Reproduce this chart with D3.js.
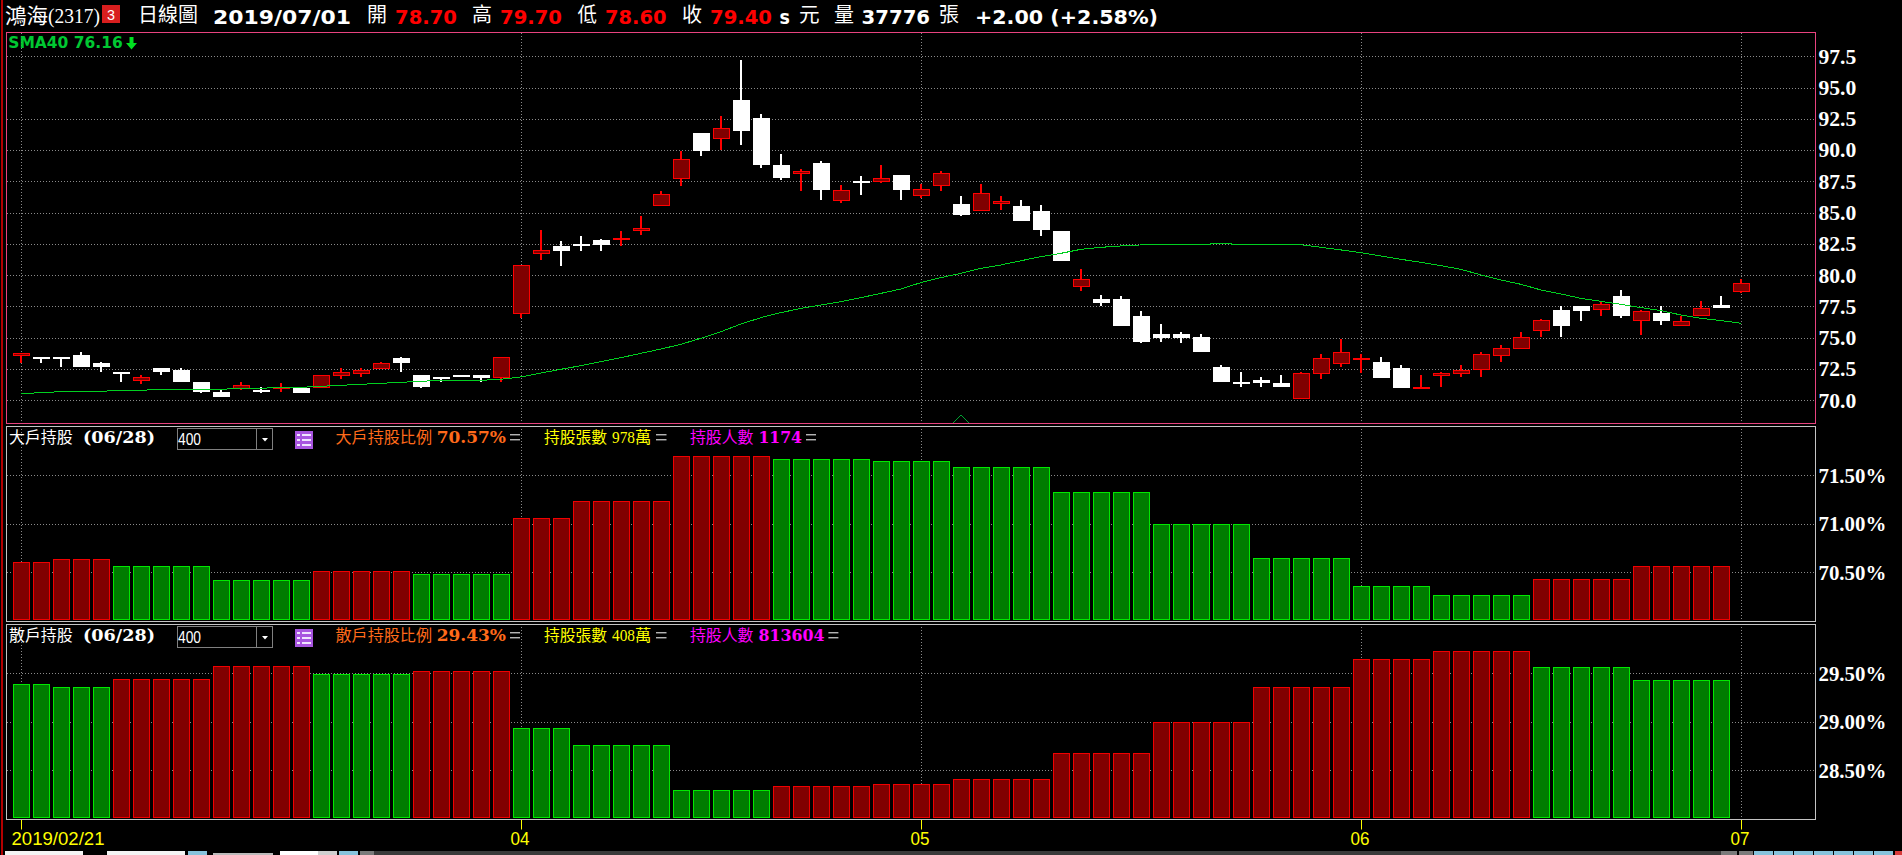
<!DOCTYPE html>
<html><head><meta charset="utf-8">
<style>html,body{margin:0;padding:0;background:#000;overflow:hidden}svg{display:block}</style>
<script src="https://cdn.jsdelivr.net/npm/d3@7"></script></head>
<body><svg id="c" width="1902" height="855"></svg>
<script>
// ---------- data ----------
const candleOpen  = [73.6,73.5,73.5,73.6,73.0,72.3,71.6,72.6,72.4,71.5,70.7,71.0,70.8,71.0,71.0,71.1,72.0,72.2,72.6,73.4,72.0,71.9,72.0,72.0,71.9,77.0,81.8,82.3,82.5,82.8,82.9,83.6,85.6,87.8,91.4,91.0,94.0,92.6,88.8,88.2,89.0,86.0,87.5,87.5,88.0,86.4,87.2,85.7,85.2,85.8,85.5,85.1,83.5,79.1,78.1,78.1,76.7,75.3,75.3,75.1,72.7,71.5,71.6,71.4,70.2,72.2,73.0,73.3,73.1,72.6,71.0,72.0,72.2,72.5,73.6,74.2,75.6,77.2,77.5,77.3,78.3,76.4,77.0,76.0,76.8,77.6,78.7];
const candleHigh  = [73.8,73.5,73.5,73.9,73.1,72.3,72.0,72.6,72.6,71.5,70.8,71.5,71.1,71.4,71.1,72.0,72.6,72.6,73.1,73.5,72.0,71.9,72.0,72.0,73.5,80.8,83.6,82.7,83.1,82.9,83.5,84.7,86.7,89.9,91.4,92.7,97.2,92.9,89.7,88.5,89.1,87.2,87.9,88.8,88.0,87.3,88.3,86.3,87.3,86.3,86.0,85.6,83.5,80.5,78.4,78.3,77.1,76.1,75.5,75.3,72.8,72.3,71.9,72.0,72.3,73.7,74.9,73.7,73.5,72.8,72.0,72.3,72.8,73.9,74.4,75.5,76.5,77.5,77.5,77.9,78.8,77.2,77.5,76.7,77.9,78.3,79.7];
const candleLow   = [73.0,73.0,72.7,72.7,72.3,71.5,71.3,72.0,71.5,70.6,70.3,70.8,70.6,70.7,70.6,71.0,71.7,71.9,72.5,72.3,71.0,71.5,71.9,71.5,71.5,76.6,81.2,80.7,81.9,81.9,82.3,83.2,85.6,87.1,89.5,90.0,90.4,88.6,87.6,86.7,86.0,85.8,86.4,87.4,86.0,86.2,86.7,84.7,85.2,85.2,84.3,83.1,81.1,78.7,77.5,75.9,74.6,74.7,74.6,73.9,71.5,71.1,71.1,71.1,70.1,71.7,72.7,72.2,71.8,71.0,71.0,71.1,71.9,71.9,73.1,74.2,75.1,75.1,76.3,76.7,76.6,75.2,76.0,76.0,76.7,77.4,78.6];
const candleClose = [73.8,73.4,73.4,72.7,72.7,72.2,71.9,72.3,71.5,70.7,70.3,71.2,70.7,71.1,70.6,72.0,72.3,72.4,73.0,73.0,71.1,71.8,71.9,71.8,73.5,80.8,82.0,81.9,82.4,82.4,83.0,83.8,86.5,89.3,89.9,91.8,91.5,88.8,87.8,88.3,86.8,86.8,87.4,87.8,86.8,86.9,88.2,84.8,86.6,85.9,84.3,83.6,81.1,79.7,77.8,75.9,74.7,75.0,75.0,73.9,71.5,71.4,71.4,71.1,72.2,73.4,73.9,73.4,71.8,71.0,71.1,72.2,72.4,73.7,74.2,75.1,76.4,75.9,77.1,77.7,76.7,77.1,76.3,76.3,77.4,77.4,79.4];
const sma40 = [70.53,70.61,70.69,70.72,70.72,70.80,70.80,70.88,70.88,70.88,70.88,70.96,70.96,71.04,71.04,71.12,71.20,71.28,71.36,71.44,71.52,71.60,71.60,71.60,71.68,71.87,72.18,72.48,72.77,73.09,73.41,73.76,74.10,74.48,74.96,75.49,76.10,76.61,77.01,77.35,77.62,77.89,78.21,78.55,78.90,79.41,79.81,80.15,80.55,80.82,81.16,81.48,81.75,82.07,82.23,82.34,82.42,82.47,82.47,82.47,82.52,82.47,82.47,82.47,82.44,82.23,82.02,81.80,81.54,81.27,81.03,80.76,80.47,80.02,79.62,79.27,78.82,78.50,78.15,77.91,77.67,77.41,77.17,76.82,76.55,76.37,76.16];
const bigRatio = [70.61,70.61,70.64,70.64,70.64,70.56,70.56,70.56,70.56,70.56,70.42,70.42,70.42,70.42,70.42,70.51,70.51,70.51,70.51,70.51,70.48,70.48,70.48,70.48,70.48,71.06,71.06,71.06,71.24,71.24,71.24,71.24,71.24,71.70,71.70,71.70,71.70,71.70,71.665,71.665,71.665,71.665,71.665,71.645,71.645,71.645,71.645,71.59,71.59,71.59,71.59,71.59,71.325,71.325,71.325,71.325,71.325,70.995,70.995,70.995,70.995,70.995,70.645,70.645,70.645,70.645,70.645,70.355,70.355,70.355,70.355,70.27,70.27,70.27,70.27,70.27,70.43,70.43,70.43,70.43,70.43,70.57,70.57,70.57,70.57,70.57];
const retailRatio = [29.39,29.39,29.36,29.36,29.36,29.44,29.44,29.44,29.44,29.44,29.58,29.58,29.58,29.58,29.58,29.49,29.49,29.49,29.49,29.49,29.52,29.52,29.52,29.52,29.52,28.94,28.94,28.94,28.76,28.76,28.76,28.76,28.76,28.30,28.30,28.30,28.30,28.30,28.335,28.335,28.335,28.335,28.335,28.355,28.355,28.355,28.355,28.41,28.41,28.41,28.41,28.41,28.675,28.675,28.675,28.675,28.675,29.00,29.00,29.00,29.00,29.00,29.355,29.355,29.355,29.355,29.355,29.645,29.645,29.645,29.645,29.73,29.73,29.73,29.73,29.73,29.57,29.57,29.57,29.57,29.57,29.43,29.43,29.43,29.43,29.43];
const priceTicks  = [97.5,95,92.5,90,87.5,85,82.5,80,77.5,75,72.5,70];
const bigTicks    = [71.5,71,70.5];
const retailTicks = [29.5,29,28.5];
const monthIndex  = [0,25,45,67,86];
const monthLabels = ["2019/02/21","04","05","06","07"];
const signalIndex = 47;

// ---------- scales ----------
const svg = d3.select("#c");
const L = 7, R = 1815;
const x = d3.scaleLinear().domain([0,86]).range([21,1741]);
const yPrice  = d3.scaleLinear().domain([70,97.5]).range([400.3,56.3]);
const yBig    = d3.scaleLinear().domain([70.5,71.5]).range([572.3,475.3]);
const yRetail = d3.scaleLinear().domain([28.5,29.5]).range([770.3,673.3]);
const px = v => Math.round(v);

const GRID="#8a8a8a", RED="#ff0000", DRED="#800000", GRN="#00e800", DGRN="#007c00", PINK="#e8437f", FRAME="#c4c4c4";
const CJK="'Noto Sans CJK TC'", BOLD="'DejaVu Sans'", SER="'Liberation Serif'", SERB="'DejaVu Serif'";

// left red rule
svg.append("line").attr("x1",2).attr("x2",2).attr("y1",0).attr("y2",855).attr("stroke","#f00000").attr("stroke-width",1.5);

// ---------- grid + y axes ----------
function yAxis(scale,ticks,fmt){
  const g = svg.append("g").attr("transform",`translate(${R+0.5},0)`)
    .call(d3.axisRight(scale).tickValues(ticks).tickFormat(fmt).tickSize(0).tickPadding(3));
  g.select(".domain").remove();
  g.selectAll("text").attr("fill","#fff").attr("font-family",SER).attr("font-weight",700).attr("font-size",20)
    .attr("dy","0.34em").attr("textLength",function(){return this.textContent.length*(this.textContent.includes("%")?11.3:9.45)}).attr("lengthAdjust","spacingAndGlyphs");
  ticks.forEach(t=>{
    svg.append("line").attr("x1",L).attr("x2",R).attr("y1",px(scale(t))+.5).attr("y2",px(scale(t))+.5)
      .attr("stroke",GRID).attr("stroke-dasharray","1,2");
  });
}
yAxis(yPrice,priceTicks,d3.format(".1f"));
yAxis(yBig,bigTicks,d=>d3.format(".2f")(d)+"%");
yAxis(yRetail,retailTicks,d=>d3.format(".2f")(d)+"%");

// vertical month grid
svg.append("g").selectAll("line").data(monthIndex).join("line")
  .attr("x1",d=>px(x(d))+.5).attr("x2",d=>px(x(d))+.5).attr("y1",33).attr("y2",819)
  .attr("stroke",GRID).attr("stroke-dasharray","1,2");

// ---------- x axis ----------
const xg = svg.append("g").attr("transform","translate(0,819.5)")
  .call(d3.axisBottom(x).tickValues(monthIndex).tickFormat((d,i)=>monthLabels[i]).tickSize(10).tickPadding(3));
xg.select(".domain").remove();
xg.selectAll("line").attr("stroke","#ffff00");
xg.selectAll("text").attr("fill","#ffff00").attr("font-family","'Liberation Sans'").attr("font-size",18).attr("y",13)
  .attr("text-anchor","start")
  .attr("x",(d,i)=>i===0?-10:-11)
  .attr("textLength",(d,i)=>i===0?93:19).attr("lengthAdjust","spacingAndGlyphs");

// ---------- histogram panels ----------
function bars(values,scale,base,firstUp){
  let up = firstUp;
  const flags = values.map((v,i)=>{ if(i>0){ if(v>values[i-1]) up=true; else if(v<values[i-1]) up=false; } return up; });
  svg.append("g").selectAll("rect").data(values).join("rect")
    .attr("x",(d,i)=>px(x(i))-8+.5).attr("width",16)
    .attr("y",d=>px(scale(d))+.5).attr("height",d=>base-px(scale(d)))
    .attr("fill",(d,i)=>flags[i]?DRED:DGRN)
    .attr("stroke",(d,i)=>flags[i]?"#f00000":GRN).attr("stroke-width",1);
}
bars(bigRatio,yBig,619,true);
bars(retailRatio,yRetail,817,false);

// ---------- candles ----------
const idx = d3.range(candleOpen.length);
const gc = svg.append("g");
gc.selectAll(".w").data(idx).join("rect")
  .attr("x",i=>px(x(i))-1).attr("width",2)
  .attr("y",i=>px(yPrice(candleHigh[i])))
  .attr("height",i=>Math.max(1,px(yPrice(candleLow[i]))-px(yPrice(candleHigh[i]))))
  .attr("fill",i=>candleClose[i]>=candleOpen[i]?RED:"#fff");
gc.selectAll(".b").data(idx).join("rect")
  .each(function(i){
    const up = candleClose[i]>=candleOpen[i];
    const t = px(yPrice(Math.max(candleOpen[i],candleClose[i]))), b = px(yPrice(Math.min(candleOpen[i],candleClose[i])));
    const s = d3.select(this);
    if(up){
      s.attr("x",px(x(i))-8+.5).attr("width",16).attr("y",t+.5).attr("height",Math.max(1,b-t)).attr("fill",DRED).attr("stroke",RED);
    } else {
      s.attr("x",px(x(i))-8).attr("width",17).attr("y",t).attr("height",Math.max(2,b-t)).attr("fill","#fff");
    }
  });

// SMA line
svg.append("path").datum(sma40).attr("fill","none").attr("stroke","#00d020").attr("stroke-width",1).attr("shape-rendering","crispEdges")
  .attr("d",d3.line().x((d,i)=>x(i)).y(d=>yPrice(d)));

// signal triangle
const tx = x(signalIndex);
svg.append("path").attr("d",`M${tx-8},423L${tx},415L${tx+8},423`).attr("fill","none").attr("stroke","#00a030");

// ---------- frames ----------
const frame=(y1,y2,c)=>svg.append("rect").attr("x",6.5).attr("y",y1).attr("width",R-6).attr("height",y2-y1).attr("fill","none").attr("stroke",c);
frame(32.5,423.5,PINK); frame(426.5,621.5,FRAME); frame(624.5,819.5,FRAME);

// ---------- text ----------
function T(x1,x2,yc,s,color,font,size,weight){
  return svg.append("text").attr("x",x1).attr("y",yc).attr("dy","0.36em").attr("fill",color)
    .attr("font-family",font).attr("font-size",size).attr("font-weight",weight||400)
    .attr("textLength",x2-x1).attr("lengthAdjust","spacingAndGlyphs").text(s);
}
T(5,48,15,"鴻海","#fff",CJK,21);
T(48,100,15,"(2317)","#fff",SER,21);
svg.append("rect").attr("x",102).attr("y",5).attr("width",18).attr("height",18).attr("fill","#d81e1e");
T(107,115,14.5,"3","#fff","'Liberation Sans'",14);
T(138,198,15,"日線圖","#fff",CJK,20);
T(213,351,16.5,"2019/07/01","#fff",BOLD,20,700);
T(367,387,15,"開","#fff",CJK,20);
T(395,457,16.5,"78.70","#ff0000",BOLD,20,700);
T(472,492,15,"高","#fff",CJK,20);
T(500,562,16.5,"79.70","#ff0000",BOLD,20,700);
T(577.5,597,15,"低","#fff",CJK,20);
T(605,666.5,16.5,"78.60","#ff0000",BOLD,20,700);
T(682,702,15,"收","#fff",CJK,20);
T(710,772,16.5,"79.40","#ff0000",BOLD,20,700);
T(779.6,790,16.5,"s","#fff",BOLD,20,700);
T(799,819.6,15,"元","#fff",CJK,20);
T(834,854,15,"量","#fff",CJK,20);
T(861.6,930,16.5,"37776","#fff",BOLD,20,700);
T(939,959,15,"張","#fff",CJK,20);
T(975,1158,16.5,"+2.00 (+2.58%)","#fff",BOLD,20,700);
T(8.3,122.7,42.5,"SMA40 76.16","#00c832",BOLD,16,700);
svg.append("path").attr("d","M129.5,37h4v6h3.5l-5.5,6.5l-5.5,-6.5h3.5z").attr("fill","#00e020");

function equals(x1,x2,yc){
  svg.append("rect").attr("x",x1).attr("y",yc-3).attr("width",x2-x1).attr("height",1).attr("fill","#fff");
  svg.append("rect").attr("x",x1).attr("y",yc+2).attr("width",x2-x1).attr("height",1).attr("fill","#fff");
}
function legend(dy,name,ratioName,ratioVal,lots,people){
  const y=437.3+dy;
  T(9,72.6,y,name,"#fff",CJK,16);
  T(83,155,y,"(06/28)","#fff",SERB,16,700);
  svg.append("rect").attr("x",177.5).attr("y",428.5+dy).attr("width",95).attr("height",21).attr("fill","none").attr("stroke","#808080");
  svg.append("line").attr("x1",256.5).attr("x2",256.5).attr("y1",428.5+dy).attr("y2",449.5+dy).attr("stroke","#808080");
  svg.append("path").attr("d",`M262,${438+dy}h6l-3,3.5z`).attr("fill","#fff");
  T(178,201,y+2,"400","#fff","'Liberation Sans'",16);
  svg.append("rect").attr("x",295).attr("y",431+dy).attr("width",18).attr("height",18).attr("fill","#a855e0");
  [435,440,445].forEach(ly=>{
    svg.append("rect").attr("x",302).attr("y",ly+dy-1).attr("width",9).attr("height",2).attr("fill","#f0e4ff");
    svg.append("rect").attr("x",297).attr("y",ly+dy-1).attr("width",3).attr("height",2).attr("fill","#f0e4ff");
  });
  T(335.5,432,y,ratioName,"#ff6a1a",CJK,16);
  T(436.7,506,y,ratioVal,"#ff6a1a",SERB,16,700);
  equals(510,520,y);
  T(544,607,y,"持股張數","#ffff00",CJK,16);
  T(612,635,y,lots,"#ffff00",SER,16);
  T(635,651.4,y,"萬","#ffff00",CJK,16);
  equals(656,666.5,y);
  T(690,753.5,y,"持股人數","#ff00ff",CJK,16);
  const w = people.length*(people.length>4?11:10.9);
  T(758.4,758.4+w,y,people,"#ff00ff",SERB,16,700);
  equals(758.4+w+4,758.4+w+14,y);
}
legend(0,"大戶持股","大戶持股比例","70.57%","978","1174");
legend(198,"散戶持股","散戶持股比例","29.43%","408","813604");

// ---------- cut-off toolbar strip ----------
const strip=[[5,851,78,"#f4f4f4"],[107,851,78,"#f4f4f4"],[188,851,19,"#87c3dc"],[213,853,60,"#bbbbbb"],[280,851,38,"#ffffff"],[318,851,19,"#cfcfcf"],[339,851,19,"#87c3dc"],[360,851,14,"#7a7a7a"],[374,851,1347,"#3a3a3a"],[1721,851,16,"#7a7a7a"],[1739,851,14,"#7a7a7a"],[1754,851,19,"#87c3dc"],[1774,851,19,"#87c3dc"],[1794,851,19,"#87c3dc"],[1814,851,19,"#87c3dc"],[1834,851,19,"#87c3dc"],[1854,851,19,"#87c3dc"],[1874,851,19,"#87c3dc"],[1895,851,7,"#d83a3a"]];
svg.append("g").selectAll("rect").data(strip).join("rect")
  .attr("x",d=>d[0]).attr("y",d=>d[1]).attr("width",d=>d[2]).attr("height",d=>855-d[1]).attr("fill",d=>d[3]);
</script></body></html>
